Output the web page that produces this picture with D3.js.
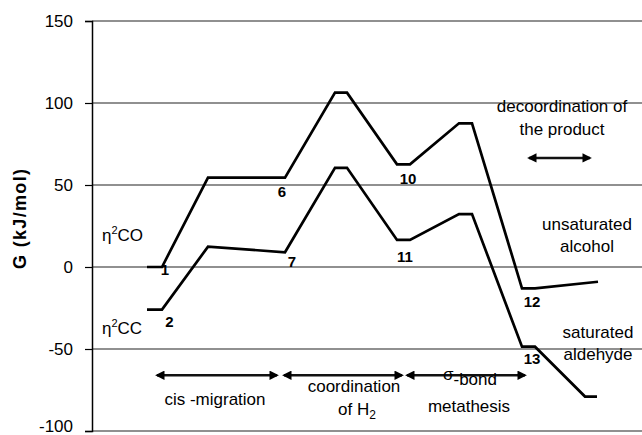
<!DOCTYPE html>
<html><head><meta charset="utf-8">
<script src="https://cdn.jsdelivr.net/npm/d3@7"></script>
<style>
body{margin:0;background:#fff;}
text{font-family:"Liberation Sans",Arial,sans-serif;fill:#000;}
</style></head><body>
<svg id="c" width="642" height="435"></svg>
<script>
// Reaction coordinate (arbitrary units) and free energies (kJ/mol)
const coX = [11,14,23.2,38.6,48.6,51,61,63.6,73.4,76,86,88.6,101.2];
const coG = [0,0,54.5,54.5,106.3,106.3,62.6,62.6,87.6,87.6,-13,-13,-9];
const ccX = [11,14,23.2,38.6,48.6,51,61,63.6,73.4,76,86,88.6,98.6,101];
const ccG = [-26,-26,12.4,9,60.5,60.5,16.5,16.5,32.3,32.3,-48.6,-48.6,-79,-79];
const yTicks = [-100,-50,0,50,100,150];
// state labels: [text, x, G]
const stateLabels = [["1",14.6,-5],["2",15.5,-36.5],["6",38,42.7],["7",40,0],
  ["10",63.2,50.6],["11",62.6,3],["12",88,-24.4],["13",88,-59]];
// process arrows: [x0, x1, G]
const procArrows = [[13,37,-66],[38.4,62,-66],[63,86.6,-66],[87.4,99.6,66.5]];

const svg = d3.select("#c");
const x = d3.scaleLinear().domain([0,110]).range([92,642]);
const y = d3.scaleLinear().domain([-100,150]).range([431,21]);

// gridlines
svg.append("g").selectAll("line").data(yTicks).join("line")
  .attr("x1",x(0)).attr("x2",x(110)).attr("y1",d=>y(d)).attr("y2",d=>y(d))
  .attr("stroke","#222").attr("stroke-width",1.2);

// y axis
const ax = svg.append("g").attr("transform",`translate(${x(0)},0)`)
  .call(d3.axisLeft(y).tickValues(yTicks).tickSize(7).tickPadding(12).tickFormat(d=>String(d)));
ax.select(".domain").attr("stroke","#000").attr("stroke-width",1.5);
ax.selectAll(".tick line").attr("stroke","#000").attr("stroke-width",1.2);
ax.selectAll(".tick text").attr("font-size",17).attr("font-family","Liberation Sans, Arial, sans-serif").attr("fill","#000")
  .attr("dy",d=>d===-100?"0.05em":"0.32em");

svg.append("text").attr("transform","translate(26,219) rotate(-90)")
  .attr("text-anchor","middle").attr("font-size",18).attr("font-weight","bold")
  .attr("textLength",100).text("G (kJ/mol)");

// energy profiles
const line = d3.line().x(d=>x(d[0])).y(d=>y(d[1]));
[[coX,coG],[ccX,ccG]].forEach(([xs,gs])=>{
  svg.append("path").datum(xs.map((v,i)=>[v,gs[i]])).attr("d",line)
    .attr("fill","none").attr("stroke","#000").attr("stroke-width",2.7)
    .attr("stroke-linejoin","miter");
});

// state labels
svg.append("g").selectAll("text").data(stateLabels).join("text")
  .attr("x",d=>x(d[1])).attr("y",d=>y(d[2])).attr("text-anchor","middle")
  .attr("font-size",15).attr("font-weight","bold").text(d=>d[0]);

// arrows
const defs = svg.append("defs");
defs.append("marker").attr("id","ah").attr("viewBox","0 0 10 10").attr("refX",8).attr("refY",5)
  .attr("markerWidth",4).attr("markerHeight",3.6).attr("markerUnits","strokeWidth").attr("orient","auto-start-reverse")
  .append("path").attr("d","M0,0L10,5L0,10Z").attr("fill","#000");
svg.append("g").selectAll("line").data(procArrows).join("line")
  .attr("x1",d=>x(d[0])).attr("x2",d=>x(d[1])).attr("y1",d=>y(d[2])).attr("y2",d=>y(d[2]))
  .attr("stroke","#111").attr("stroke-width",2.6)
  .attr("marker-start","url(#ah)").attr("marker-end","url(#ah)");

// text annotations
function t(xp,yp,str){return svg.append("text").attr("x",xp).attr("y",yp).attr("text-anchor","middle").attr("font-size",17).text(str);}
t(562,112,"decoordination of");
t(562,135,"the product");
t(587,230,"unsaturated");
t(587,252,"alcohol");
t(598,338,"saturated");
t(598,360,"aldehyde");
t(215,405,"cis -migration");
t(354,392,"coordination");
const oh = t(357,415,"of H");
oh.append("tspan").attr("font-size",12).attr("dy",4).text("2");
const sb = t(470,385,"");
sb.append("tspan").attr("dy",-5).text("σ");
sb.append("tspan").attr("dy",5).text("-bond");
t(469,412,"metathesis");

// eta labels
function eta(xp,yp,rest){
  const e = svg.append("text").attr("x",xp).attr("y",yp).attr("font-size",17);
  e.append("tspan").text("η");
  e.append("tspan").attr("font-size",11).attr("dy",-7).text("2");
  e.append("tspan").attr("dy",7).text(rest);
}
eta(102,241,"CO");
eta(102,334,"CC");
</script></body></html>
